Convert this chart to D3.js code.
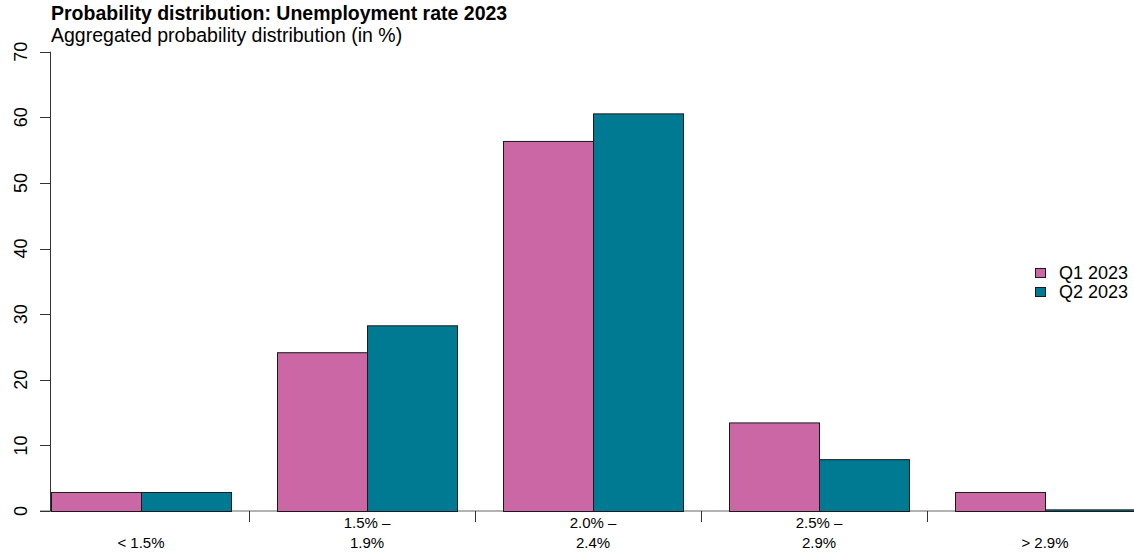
<!DOCTYPE html>
<html>
<head>
<meta charset="utf-8">
<script src="https://cdn.jsdelivr.net/npm/d3@7"></script>
<style>
  html, body { margin: 0; padding: 0; background: #fff; }
  svg { display: block; font-family: "Liberation Sans", Arial, Helvetica, sans-serif; }
</style>
</head>
<body>
<svg id="chart" width="1134" height="556"></svg>
<script>
// ---- data ----
const categories = ["< 1.5%", "1.5% –\n1.9%", "2.0% –\n2.4%", "2.5% –\n2.9%", "> 2.9%"];
const seriesNames = ["Q1 2023", "Q2 2023"];
const q1Values = [2.9, 24.2, 56.4, 13.5, 2.9];
const q2Values = [2.9, 28.3, 60.6, 7.9, 0.25];
const yTicks = [0, 10, 20, 30, 40, 50, 60, 70];
const seriesColors = ["#CC67A6", "#007A92"];
const titleText = "Probability distribution: Unemployment rate 2023";
const subtitleText = "Aggregated probability distribution (in %)";

// ---- layout ----
const W = 1134, H = 556;
const plotLeft = 50, baseY = 511, topY = 51.7;
const svg = d3.select("#chart");

const x = d3.scaleBand()
  .domain(categories)
  .range([28, 1158])
  .paddingInner(46 / 226)
  .paddingOuter(23 / 226);
const xs = d3.scaleBand().domain(seriesNames).range([0, x.bandwidth()]).padding(0);
const y = d3.scaleLinear().domain([0, 70]).range([baseY, topY]);

const rows = categories.map((c, i) => ({ cat: c, vals: [q1Values[i], q2Values[i]] }));

// baseline
svg.append("line")
  .attr("x1", 40).attr("x2", W)
  .attr("y1", baseY).attr("y2", baseY)
  .attr("stroke", "#666").attr("stroke-width", 1);

// bars
const g = svg.append("g");
g.selectAll("g.grp").data(rows).join("g")
  .attr("class", "grp")
  .attr("transform", d => `translate(${x(d.cat)},0)`)
  .selectAll("rect").data(d => d.vals.map((v, k) => ({ v, s: seriesNames[k], k })))
  .join("rect")
  .attr("x", d => xs(d.s) + 0.5)
  .attr("y", d => y(d.v) + 0.5)
  .attr("width", xs.bandwidth())
  .attr("height", d => Math.max(0, y(0) - y(d.v)))
  .attr("fill", d => seriesColors[d.k])
  .attr("stroke", "#1a1a1a")
  .attr("stroke-width", 1);

// y axis
const yAxis = svg.append("g").attr("transform", `translate(${plotLeft},0)`);
yAxis.append("line").attr("x1", 0.5).attr("x2", 0.5).attr("y1", y(70)).attr("y2", y(0))
  .attr("stroke", "#333");
yAxis.selectAll("line.tk").data(yTicks).join("line").attr("class", "tk")
  .attr("x1", -10).attr("x2", 0.5)
  .attr("y1", d => Math.round(y(d)) + 0.5).attr("y2", d => Math.round(y(d)) + 0.5)
  .attr("stroke", "#333");
yAxis.selectAll("text").data(yTicks).join("text")
  .attr("transform", d => `translate(-23.5,${y(d)}) rotate(-90)`)
  .attr("text-anchor", "middle")
  .attr("font-size", 18)
  .attr("fill", "#000")
  .text(d => d);

// x ticks between groups
const gap = x.step() - x.bandwidth();
const tickPos = categories.slice(0, -1).map(c => x(c) + x.bandwidth() + gap * 0.4);
svg.selectAll("line.xt").data(tickPos).join("line").attr("class", "xt")
  .attr("x1", d => Math.round(d) + 0.5).attr("x2", d => Math.round(d) + 0.5)
  .attr("y1", baseY).attr("y2", baseY + 11)
  .attr("stroke", "#333");

// x labels
const xl = svg.selectAll("text.xl").data(categories).join("text").attr("class", "xl")
  .attr("text-anchor", "middle")
  .attr("font-size", 15)
  .attr("fill", "#000");
xl.each(function(c) {
  const lines = c.split("\n");
  const t = d3.select(this);
  const cx = x(c) + x.bandwidth() / 2;
  lines.forEach((ln, i) => {
    t.append("tspan")
      .attr("x", cx)
      .attr("y", 548 - (lines.length - 1 - i) * 20)
      .text(ln);
  });
});

// title
svg.append("text").attr("x", 51).attr("y", 20)
  .attr("font-size", 19.5).attr("font-weight", "bold").text(titleText);
svg.append("text").attr("x", 51).attr("y", 42)
  .attr("font-size", 19.5).text(subtitleText);

// legend
const lg = svg.append("g").attr("transform", "translate(1035,268)");
const li = lg.selectAll("g").data(seriesNames).join("g")
  .attr("transform", (d, i) => `translate(0,${i * 19})`);
li.append("rect").attr("x", 0.5).attr("y", 0.5).attr("width", 10).attr("height", 9)
  .attr("fill", (d, i) => seriesColors[i]).attr("stroke", "#1a1a1a");
li.append("text").attr("x", 24).attr("y", 11).attr("font-size", 18).text(d => d);
</script>
</body>
</html>
